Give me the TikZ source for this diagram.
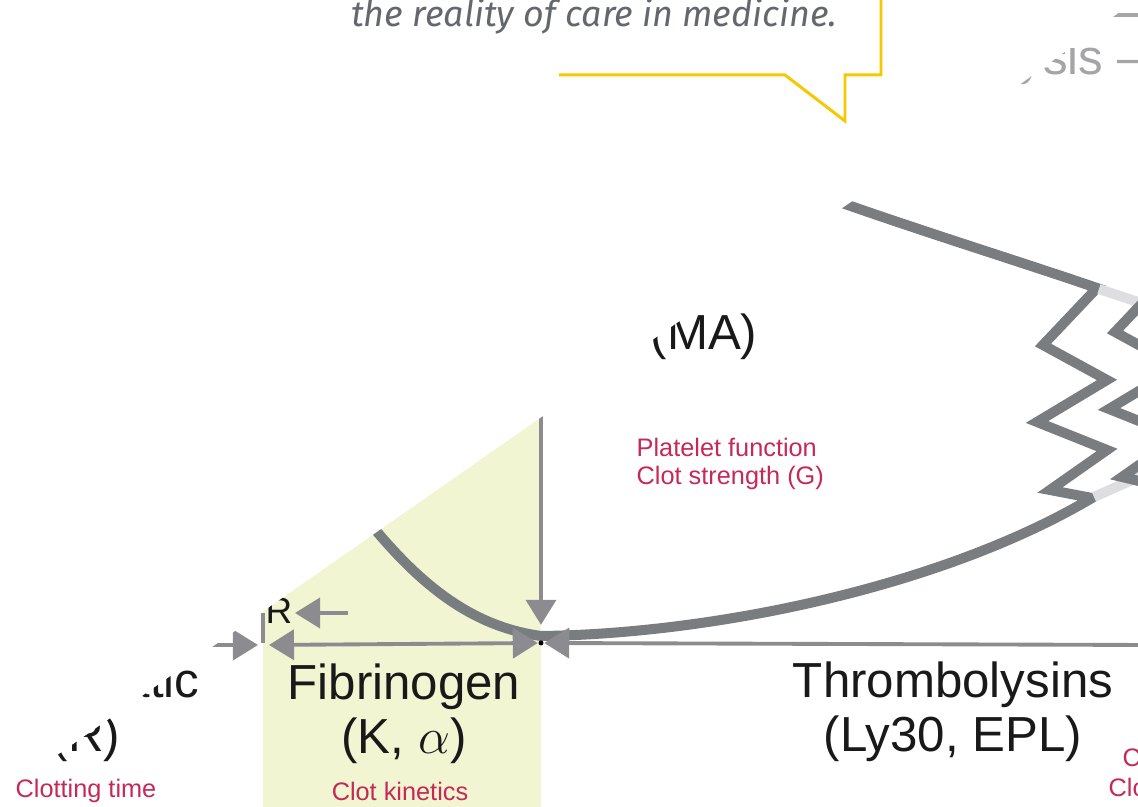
\documentclass[tikz,border=0pt]{standalone}
\usepackage{fontspec}
\setmainfont{Liberation Sans}
\newfontfamily\quotefont{Fira Sans}
\usetikzlibrary{positioning,arrows.meta}
\definecolor{curvegray}{RGB}{122,125,128}
\definecolor{arrowgray}{RGB}{140,140,144}
\definecolor{ghostgray}{RGB}{222,222,224}
\definecolor{fibyellow}{RGB}{242,245,210}
\definecolor{labelred}{RGB}{198,40,88}
\definecolor{inkblack}{RGB}{25,25,25}
\definecolor{sisgray}{RGB}{165,165,168}
\definecolor{calloutyellow}{RGB}{245,200,0}
\definecolor{quotegray}{RGB}{100,104,110}

\begin{document}
\begin{tikzpicture}[
        x=0.01cm, y=-0.01cm,
        trace/.style = {draw=curvegray, line width=2.85pt, line join=miter},
        ghost/.style = {draw=ghostgray, line width=2.85pt},
        span/.style = {draw=arrowgray, line width=1.1pt,
            -{Triangle[length=0.25cm,width=0.3cm]}},
        bispan/.style = {span, {Triangle[length=0.25cm,width=0.3cm]}-{Triangle[length=0.25cm,width=0.3cm]}},
        big/.style = {font=\fontsize{14}{15.5}\selectfont, align=center,
            text=inkblack, inner sep=0pt},
        lab/.style = {font=\fontsize{7.2}{8}\selectfont, align=left,
            text=labelred, inner sep=0pt},
        callout/.style = {draw=calloutyellow, line width=0.85pt, line join=miter},
]
        \useasboundingbox (0,0) rectangle (1138,807);
        \clip (0,0) rectangle (1138,807);
        \fill[fibyellow] (263,300) rectangle (541,807);

        \draw[trace] (330,470) .. controls (400,570) and (460,625) .. (541,636)
            .. controls (710,634) and (940,588) .. (1092,498)
            -- (1050,490) -- (1107,450) -- (1037,422) -- (1107,380) -- (1043,345)
            -- (1097,288) .. controls (980,248) and (850,210) .. (700,150);
        \draw[ghost] (1099,289) -- (1150,306);
        \draw[ghost] (1094,497) -- (1150,472);
        \draw[trace] (1169,275) -- (1115,332) -- (1179,367) -- (1109,409)
            -- (1179,437) -- (1122,477) -- (1164,487);

        \node[circle, fill=black, inner sep=0pt, minimum size=0.05cm] (clot) at (541,643) {};
        \coordinate (rfrom) at (120,645);
        \coordinate (rto) at (258,645);
        \coordinate (kfrom) at (269,645);
        \coordinate (lysfrom) at (1145,645);
        \coordinate (matop) at (541,380);
        \coordinate (bartop) at (263,613);
        \coordinate (barbot) at (263,643);
        \coordinate (rptr) at (348,613);
        \coordinate (rhead) at (295,613);
        \draw[span] (rfrom) -- (rto);
        \draw[bispan] (kfrom) -- (clot.west);
        \draw[span] (lysfrom) -- (clot.east);
        \draw[span, shorten >=0.15cm] (matop) -- (clot.north);
        \draw[draw=arrowgray, line width=0.9pt] (bartop) -- (barbot);
        \draw[span] (rptr) -- (rhead);

        \node[big] (fib) at (404,714) {Fibrinogen\\(K, $\alpha$)};
        \node[big] (lys) at (953,712) {Thrombolysins\\(Ly30, EPL)};
        \node[big] (enz) at (86,712) {Enzymatic\\(R)};
        \node[big] (ma) at (704,337) {(MA)};
        \node[big, font=\fontsize{10.5}{12}\selectfont] (rlab) at (279,611) {R};
        \node[big, text=sisgray, anchor=base west] (sis) at (1018,75) {ysis –};
        \draw[draw=sisgray, line width=1.1pt] (1090,15) -- (1145,15);

        \node[lab] (kin) at (400,791) {Clot kinetics};
        \node[lab] (ct) at (86,791) {Clotting time};
        \node[lab, anchor=west] (plt) at (636,464) {Platelet function\\Clot strength (G)};
        \node[lab, anchor=west] (lysa) at (1122,757) {Clot};
        \node[lab, anchor=west] (lysb) at (1108,787) {Clot};

        \fill[white] (-10,802) -- (0,795) -- (540,418) -- (1015,88) -- (1150,-10) -- (-10,-10) -- cycle;

        \draw[callout] (559,75) -- (785,75) -- (845,121) -- (845,75) -- (881,75) -- (881,-10);
        \node[anchor=base east, inner sep=0pt, text=quotegray,
            font=\quotefont\itshape\fontsize{10.2}{12}\selectfont] (quote) at (838,27)
            {the reality of care in medicine.};
\end{tikzpicture}
\end{document}
